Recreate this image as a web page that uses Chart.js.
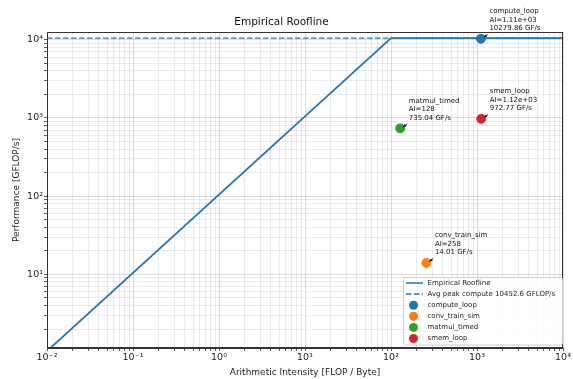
<!DOCTYPE html>
<html>
<head>
<meta charset="utf-8">
<script src="https://cdn.jsdelivr.net/npm/chart.js@4"></script>
<style>
  html, body { margin: 0; padding: 0; background: #fff; }
  #wrap { width: 573px; height: 379px; }
</style>
</head>
<body>
<div id="wrap"><canvas id="roofline"></canvas></div>
<script>
// --- data ---
const kernels = ["compute_loop", "conv_train_sim", "matmul_timed", "smem_loop"];
const kernelAI = [1110, 258, 128, 1120];
const kernelPerf = [10279.86, 14.01, 735.04, 972.77];
const kernelAILabels = ["1.11e+03", "258", "128", "1.12e+03"];
const kernelColors = ["#1f77b4", "#ff7f0e", "#2ca02c", "#d62728"];

const peakCompute = 10452.6;
const roofX = [0.01, 100, 10000];
const roofY = [1.045, 10452.6, 10452.6];
const peakX = [0.01, 10000];
const peakY = [peakCompute, peakCompute];

const xTickValues = [];
for (let e = -2; e <= 4; e++) for (let m = 1; m <= 9; m++) {
  const v = +(m * Math.pow(10, e)).toPrecision(3);
  if (v <= 10000) xTickValues.push(v);
}
const yTickValues = [];
for (let e = 0; e <= 4; e++) for (let m = 1; m <= 9; m++) {
  const v = m * Math.pow(10, e);
  if (v >= 1.145 && v <= 12543) yTickValues.push(v);
}

const FONT = "'DejaVu Sans', sans-serif";
const SUP = { "-": "\u207b", "0": "\u2070", "1": "\u00b9", "2": "\u00b2", "3": "\u00b3", "4": "\u2074" };

function isMajor(v) {
  const l = Math.log10(v);
  return Math.abs(l - Math.round(l)) < 1e-9;
}
function powLabel(v) {
  if (!isMajor(v)) return "";
  const e = String(Math.round(Math.log10(v)));
  return "10" + e.split("").map((c) => SUP[c]).join("");
}

// --- datasets ---
const datasets = [
  {
    label: "Empirical Roofline",
    data: roofX.map((x, i) => ({ x, y: roofY[i] })),
    showLine: true,
    borderColor: "#1f77b4",
    borderWidth: 1.8,
    pointRadius: 0,
  },
  {
    label: "Avg peak compute " + peakCompute + " GFLOP/s",
    data: peakX.map((x, i) => ({ x, y: peakY[i] })),
    showLine: true,
    borderColor: "#1f77b4",
    borderWidth: 1.3,
    borderDash: [5.5, 2.5],
    pointRadius: 0,
  },
];
kernels.forEach((k, i) => {
  datasets.push({
    label: k,
    data: [{ x: kernelAI[i], y: kernelPerf[i] }],
    backgroundColor: kernelColors[i],
    borderColor: kernelColors[i],
    pointRadius: 4.5,
    pointHoverRadius: 4.5,
  });
});

// --- frame, annotations and legend drawn over the plot ---
const overlay = {
  id: "overlay",
  afterDatasetsDraw(chart) {
    const { ctx, chartArea: a, scales } = chart;
    ctx.save();
    // frame top/right
    ctx.strokeStyle = "#333";
    ctx.lineWidth = 1;
    ctx.strokeRect(a.left + 0.5, a.top + 0.5, a.right - a.left - 1, a.bottom - a.top - 1);

    // point annotations
    ctx.font = "7px " + FONT;
    ctx.fillStyle = "#111";
    ctx.textBaseline = "middle";
    ctx.textAlign = "left";
    kernels.forEach((k, i) => {
      const px = scales.x.getPixelForValue(kernelAI[i]);
      const py = scales.y.getPixelForValue(kernelPerf[i]);
      const lines = [k, "AI=" + kernelAILabels[i], kernelPerf[i].toFixed(2) + " GF/s"];
      lines.forEach((t, j) => {
        ctx.fillText(t, px + 8.5, py - 10.5 - (lines.length - 1 - j) * 8.5);
      });
      // small arrow pointing back at the marker
      ctx.strokeStyle = "#000";
      ctx.fillStyle = "#000";
      ctx.lineWidth = 0.8;
      ctx.beginPath();
      ctx.moveTo(px + 7, py - 4.5);
      ctx.lineTo(px + 3, py - 1.5);
      ctx.stroke();
      ctx.beginPath();
      ctx.moveTo(px + 3, py - 1.5);
      ctx.lineTo(px + 6.2, py - 2.2);
      ctx.lineTo(px + 4.6, py - 4.3);
      ctx.closePath();
      ctx.fill();
      ctx.fillStyle = "#111";
    });

    // legend in lower right
    const bx = 403.5, by = 277.5, bw = 159, bh = 67.5;
    ctx.fillStyle = "rgba(255,255,255,0.85)";
    ctx.strokeStyle = "#cccccc";
    ctx.lineWidth = 1;
    ctx.beginPath();
    ctx.roundRect(bx, by, bw, bh, 2);
    ctx.fill();
    ctx.stroke();
    ctx.font = "7px " + FONT;
    ctx.textBaseline = "middle";
    chart.data.datasets.forEach((ds, i) => {
      const cy = 283 + i * 11.1;
      if (ds.showLine) {
        ctx.strokeStyle = ds.borderColor;
        ctx.lineWidth = 1.5;
        ctx.setLineDash(ds.borderDash || []);
        ctx.beginPath();
        ctx.moveTo(406, cy);
        ctx.lineTo(423, cy);
        ctx.stroke();
        ctx.setLineDash([]);
      } else {
        ctx.fillStyle = ds.backgroundColor;
        ctx.beginPath();
        ctx.arc(413.5, cy, 4.5, 0, Math.PI * 2);
        ctx.fill();
      }
      ctx.fillStyle = "#222";
      ctx.fillText(ds.label, 427.5, cy);
    });
    ctx.restore();
  },
};

function axis(values, titleText, titlePad, fixSize) {
  return {
    type: "logarithmic",
    afterBuildTicks: (scale) => {
      scale.ticks = values.map((v) => ({ value: v, major: isMajor(v) }));
    },
    afterFit: fixSize,
    grid: {
      color: (c) => (c.tick && isMajor(c.tick.value) ? "rgba(0,0,0,0.18)" : "rgba(0,0,0,0.1)"),
      lineWidth: 0.8,
      borderDash: [2.5, 1.5],
      tickBorderDash: [],
      tickLength: 3,
      tickColor: "#333",
    },
    border: { color: "#333", width: 1 },
    ticks: {
      autoSkip: false,
      maxRotation: 0,
      padding: 1,
      color: "#222",
      font: { family: FONT, size: 9.5 },
      callback: (v) => powLabel(v),
    },
    title: {
      display: true,
      text: titleText,
      color: "#222",
      font: { family: FONT, size: 9 },
      padding: { top: titlePad, bottom: titlePad },
    },
  };
}

const xAxis = axis(xTickValues, "Arithmetic Intensity [FLOP / Byte]", 1.3, (s) => { s.height = 31; });
xAxis.min = 0.01;
xAxis.max = 10000;
const yAxis = axis(yTickValues, "Performance [GFLOP/s]", 11.5, (s) => { s.width = 47; });
yAxis.min = 1.145;
yAxis.max = 12543;

new Chart(document.getElementById("roofline"), {
  type: "scatter",
  data: { datasets },
  options: {
    responsive: true,
    maintainAspectRatio: false,
    animation: false,
    layout: { padding: { left: 0, right: 10, top: 0, bottom: 0 } },
    scales: { x: xAxis, y: yAxis },
    plugins: {
      legend: { display: false },
      tooltip: { enabled: false },
      title: {
        display: true,
        text: "Empirical Roofline",
        color: "#111",
        font: { family: FONT, size: 10.5, weight: "normal" },
        padding: { top: 16.2, bottom: 3.2 },
      },
    },
  },
  plugins: [overlay],
});
</script>
</body>
</html>
